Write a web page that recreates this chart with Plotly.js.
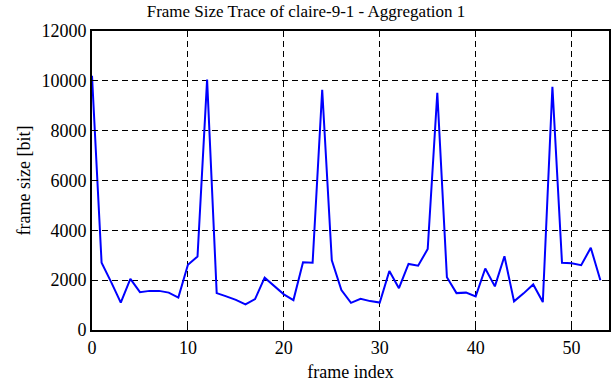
<!DOCTYPE html>
<html>
<head>
<meta charset="utf-8">
<script src="https://cdn.plot.ly/plotly-3.0.1.min.js"></script>
<style>html,body{margin:0;padding:0;background:#fff;}#chart{width:612px;height:382px;}</style>
</head>
<body>
<div id="chart"></div>
<script>
const frameIndex = [0,1,2,3,4,5,6,7,8,9,10,11,12,13,14,15,16,17,18,19,20,21,22,23,24,25,26,27,28,29,30,31,32,33,34,35,36,37,38,39,40,41,42,43,44,45,46,47,48,49,50,51,52,53];
const frameSize = [10200,2700,1920,1100,2050,1520,1570,1570,1500,1300,2620,2950,10050,1480,1350,1210,1030,1240,2100,1750,1430,1200,2720,2700,9640,2800,1600,1090,1250,1160,1100,2370,1680,2650,2580,3250,9520,2120,1480,1500,1350,2470,1750,2960,1150,1470,1830,1120,9760,2700,2680,2600,3300,2000];
const xTicks = [0,10,20,30,40,50];
const yTicks = [0,2000,4000,6000,8000,10000,12000];

const fam = '"Liberation Serif", "Times New Roman", serif';
const font = {family: fam, size: 18, color: '#000'};
const titleFont = {family: fam, size: 17, color: '#000'};
const axisCommon = {
  showline: true, linecolor: '#000', linewidth: 2, mirror: 'ticks',
  ticks: 'inside', ticklen: 6, tickwidth: 1, tickcolor: '#000',
  showgrid: true, gridcolor: '#000', gridwidth: 1, griddash: '6px,4px',
  zeroline: false, tickfont: font
};

Plotly.newPlot('chart', [{
  x: frameIndex, y: frameSize, type: 'scatter', mode: 'lines',
  line: {color: '#0000ff', width: 2}
}], {
  width: 612, height: 382,
  margin: {l: 92, r: 3, t: 31, b: 52},
  paper_bgcolor: '#fff', plot_bgcolor: '#fff',
  showlegend: false,
  font: font,
  title: {text: 'Frame Size Trace of claire-9-1 - Aggregation 1', font: titleFont, x: 0.5, xanchor: 'center', y: 0.97, yanchor: 'middle'},
  xaxis: Object.assign({}, axisCommon, {
    range: [0, 53.9], tickvals: xTicks, ticktext: xTicks.map(String),
    title: {text: 'frame index', font: font, standoff: 13}
  }),
  yaxis: Object.assign({}, axisCommon, {
    range: [0, 12000], tickvals: yTicks, ticktext: yTicks.map(String),
    title: {text: 'frame size [bit]', font: font, standoff: 6}
  })
}, {staticPlot: true, displayModeBar: false});
</script>
</body>
</html>
